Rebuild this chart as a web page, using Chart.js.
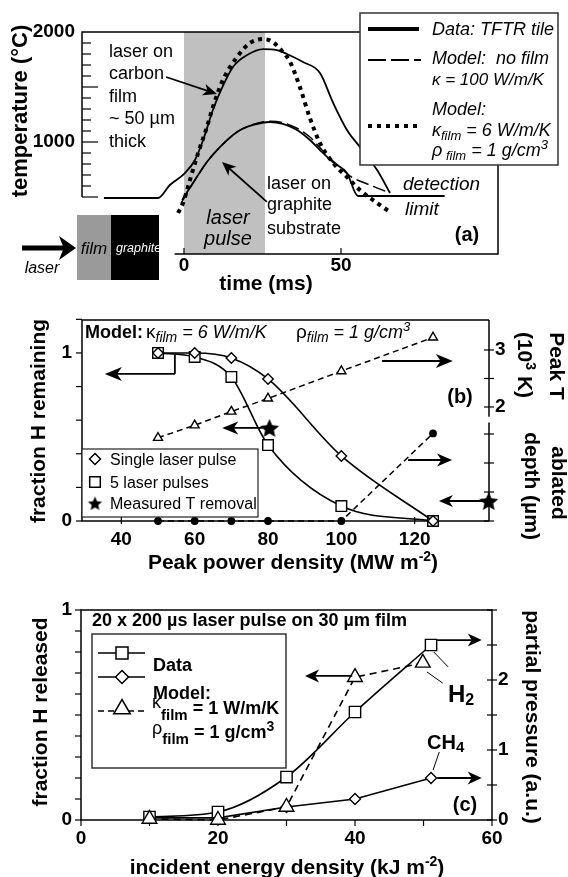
<!DOCTYPE html>
<html>
<head>
<meta charset="utf-8">
<script src="https://cdn.jsdelivr.net/npm/chart.js@4.4.1/dist/chart.umd.min.js"></script>
<style>
html, body { margin: 0; padding: 0; background: #fff; }
#wrap { position: relative; width: 568px; height: 877px; }
canvas { position: absolute; left: 0; top: 0; }
</style>
</head>
<body>
<div id="wrap">
<canvas id="chartA" width="568" height="877"></canvas>
<canvas id="chartB" width="568" height="877"></canvas>
<canvas id="chartC" width="568" height="877"></canvas>
</div>
<script>
const FONT = '"Liberation Sans", Arial, Helvetica, sans-serif';

// (a) surface temperature vs time
const pulseWindow = [0, 25.8];
const timeUpper = [-25.5, -8.3, -4.5, 0.3, 3.5, 6.1, 9.2, 12.1, 15.6, 20.1, 25.2, 29.6, 32.8, 37.9, 43.3, 47.5, 51.9, 56.0, 61.5, 65.6];
const tempUpper = [491, 491, 609, 718, 836, 1018, 1291, 1491, 1682, 1791, 1845, 1836, 1800, 1727, 1627, 1355, 1109, 955, 745, 536];
const timeLower = [-0.6, 3.5, 7.3, 11.5, 16.9, 22.0, 27.4, 31.5, 36.0, 40.1, 43.3, 47.5, 51.9, 55.4, 83.0];
const tempLower = [473, 655, 818, 955, 1091, 1155, 1182, 1164, 1109, 1018, 927, 815, 718, 509, 509];
const timeNoFilm = [-1.0, 3.5, 7.3, 11.5, 16.9, 22.0, 27.4, 31.5, 36.0, 40.1, 45.5, 49.7, 52.9, 59.2, 65.6];
const tempNoFilm = [440, 655, 818, 955, 1091, 1160, 1188, 1175, 1125, 1045, 880, 770, 690, 609, 536];
const timeFilm = [-1.9, -0.3, 1.9, 4.5, 7.3, 9.2, 12.4, 16.9, 21.0, 25.2, 28.3, 31.5, 33.8, 37.0, 40.1, 43.3, 47.5, 51.9, 56.0, 61.5, 65.6];
const tempFilm = [355, 445, 655, 900, 1136, 1318, 1564, 1773, 1900, 1936, 1909, 1818, 1727, 1491, 1218, 991, 809, 682, 564, 445, 364];
const ticksTime = [0, 50];
const ticksTemp = [1000, 2000];

// (b) fraction H remaining vs peak power density
const powerDensity = [50, 60, 70, 80, 100, 125];
const singlePulse = [1.0, 1.0, 0.97, 0.845, 0.387, 0.0];
const fivePulses = [1.0, 0.976, 0.857, 0.452, 0.089, 0.0];
const peakT = [1.46, 1.68, 1.92, 2.15, 2.63, 3.22];
const ablatedDepth = [0, 0, 0, 0, 0, 30.2];
const measuredPower = [80.4, 140.2];
const measuredRemaining = [0.554, 0.119];
const ticksPower = [40, 60, 80, 100, 120];
const ticksRemaining = [0, 1];
const ticksPeakT = [2, 3];
const ticksDepth = [0, 20];

// (c) fraction H released vs incident energy density
const energyData = [10, 20, 30, 40, 51.1];
const h2Pressure = [0.043, 0.114, 0.614, 1.543, 2.5];
const ch4Pressure = [0.03, 0.03, 0.186, 0.3, 0.6];
const energyModel = [10, 20, 30, 40, 49.9];
const modelReleased = [0.005, 0.0, 0.062, 0.68, 0.748];
const ticksEnergy = [0, 20, 40, 60];
const ticksReleased = [0, 1];
const ticksPressure = [0, 1, 2];

function fnt(size, style) { return (style || '') + ' ' + size + 'px ' + FONT; }
function P(t, f, dy, c) { return {t: t, f: f, dy: dy || 0, c: c}; }

function rich(ctx, x, y, parts, align) {
  ctx.save();
  ctx.textBaseline = 'alphabetic';
  ctx.textAlign = 'left';
  let w = 0;
  parts.forEach(p => { ctx.font = p.f; w += ctx.measureText(p.t).width; });
  let cx = align === 'center' ? x - w / 2 : x;
  parts.forEach(p => {
    ctx.font = p.f;
    ctx.fillStyle = p.c || '#000';
    ctx.fillText(p.t, cx, y + p.dy);
    cx += ctx.measureText(p.t).width;
  });
  ctx.restore();
}

function rot(ctx, cx, cy, ang, parts, size) {
  const a = size * 0.33;
  ctx.save();
  ctx.translate(cx + (ang < 0 ? a : -a), cy);
  ctx.rotate(ang);
  rich(ctx, 0, 0, parts, 'center');
  ctx.restore();
}

function seg(ctx, x1, y1, x2, y2) {
  ctx.beginPath(); ctx.moveTo(x1, y1); ctx.lineTo(x2, y2); ctx.stroke();
}

function arrow(ctx, x1, y1, x2, y2, len, half, lw) {
  const a = Math.atan2(y2 - y1, x2 - x1);
  ctx.save();
  ctx.strokeStyle = '#000'; ctx.fillStyle = '#000'; ctx.lineWidth = lw;
  seg(ctx, x1, y1, x2 - Math.cos(a) * len * 0.7, y2 - Math.sin(a) * len * 0.7);
  ctx.translate(x2, y2); ctx.rotate(a);
  ctx.beginPath();
  ctx.moveTo(0, 0); ctx.lineTo(-len, -half); ctx.lineTo(-len * 0.72, 0); ctx.lineTo(-len, half);
  ctx.closePath(); ctx.fill();
  ctx.restore();
}

function mark(ctx, kind, x, y, r) {
  ctx.save();
  ctx.lineWidth = 1.5; ctx.strokeStyle = '#000'; ctx.fillStyle = '#fff';
  ctx.beginPath();
  if (kind === 'rect') ctx.rect(x - r, y - r, 2 * r, 2 * r);
  else if (kind === 'diamond') { ctx.moveTo(x, y - r); ctx.lineTo(x + r, y); ctx.lineTo(x, y + r); ctx.lineTo(x - r, y); ctx.closePath(); }
  else { ctx.moveTo(x, y - r); ctx.lineTo(x + r * 0.87, y + r * 0.5); ctx.lineTo(x - r * 0.87, y + r * 0.5); ctx.closePath(); }
  ctx.fill(); ctx.stroke();
  ctx.restore();
}

function makeStar(r) {
  const c = document.createElement('canvas');
  c.width = c.height = Math.ceil(2 * r + 2);
  const g = c.getContext('2d'), m = c.width / 2;
  g.beginPath();
  for (let i = 0; i < 10; i++) {
    const rr = i % 2 ? r * 0.46 : r, a = -Math.PI / 2 + i * Math.PI / 5;
    g.lineTo(m + rr * Math.cos(a), m + 1 + rr * Math.sin(a));
  }
  g.closePath(); g.fillStyle = '#000'; g.fill();
  return c;
}
const starBig = makeStar(10);
const starSmall = makeStar(7.5);

function series(xs, ys, style) {
  return Object.assign({
    data: xs.map((x, i) => ({x: x, y: ys[i]})),
    borderColor: '#000', backgroundColor: '#fff', borderWidth: 1.6,
    pointRadius: 0, tension: 0, clip: false, fill: false,
    pointBorderColor: '#000', pointBackgroundColor: '#fff', pointBorderWidth: 1.4
  }, style);
}

function axis(pos, min, max, ticks, size, pad, weight) {
  return {
    type: 'linear', position: pos, min: min, max: max, bounds: 'data', weight: weight || 0,
    grid: {display: false, drawTicks: false},
    border: {display: false},
    ticks: {font: {family: FONT, size: 19, weight: 'bold'}, color: '#000', padding: pad,
            autoSkip: false, maxRotation: 0, minRotation: 0, callback: v => String(v)},
    afterBuildTicks: s => { s.ticks = ticks.map(v => ({value: v})); },
    afterFit: s => { if (pos === 'left' || pos === 'right') s.width = size; else s.height = size; }
  };
}

function baseOptions(padding, scales) {
  return {
    responsive: false, animation: false, devicePixelRatio: 1, events: [],
    layout: {padding: padding},
    plugins: {legend: {display: false}, tooltip: {enabled: false}},
    scales: scales
  };
}

// ---------------- (a) ----------------
const decoA = {
  id: 'decoA',
  beforeDatasetsDraw(chart) {
    const ctx = chart.ctx, x = chart.scales.x, y = chart.scales.y;
    ctx.save();
    const p0 = x.getPixelForValue(pulseWindow[0]), p1 = x.getPixelForValue(pulseWindow[1]);
    ctx.fillStyle = '#c0c0c0';
    ctx.fillRect(p0, y.top, p1 - p0, y.bottom - y.top);
    ctx.strokeStyle = '#000'; ctx.lineWidth = 1.5;
    ctx.beginPath();
    ctx.moveTo(x.left, y.getPixelForValue(500));
    ctx.lineTo(x.left, y.top); ctx.lineTo(x.right, y.top);
    ctx.lineTo(x.right, y.bottom); ctx.lineTo(x.getPixelForValue(-3), y.bottom);
    ctx.stroke();
    ctx.lineWidth = 1.2;
    for (let t = 500; t < 2000; t += 100) {
      const py = y.getPixelForValue(t);
      seg(ctx, x.left, py, x.left + (t % 500 === 0 ? 16 : 9), py);
    }
    ticksTime.forEach(v => { const px = x.getPixelForValue(v); seg(ctx, px, y.bottom, px, y.bottom - 6); });
    ctx.restore();
  },
  afterDatasetsDraw(chart) {
    const ctx = chart.ctx, x = chart.scales.x, y = chart.scales.y;
    const X = v => x.getPixelForValue(v), Y = v => y.getPixelForValue(v);
    arrow(ctx, X(-5.7), Y(1591), X(10.5), Y(1436), 14, 6, 1.8);
    arrow(ctx, X(26.4), Y(455), X(12.1), Y(818), 14, 6, 1.8);

    const r18 = fnt(18);
    rich(ctx, 109, 57, [P('laser on', r18)]);
    rich(ctx, 109, 79, [P('carbon', r18)]);
    rich(ctx, 109, 102, [P('film', r18)]);
    rich(ctx, 109, 124, [P('~ 50 µm', r18)]);
    rich(ctx, 109, 147, [P('thick', r18)]);
    rich(ctx, 267, 189, [P('laser on', r18)]);
    rich(ctx, 267, 210, [P('graphite', r18)]);
    rich(ctx, 267, 234, [P('substrate', r18)]);
    rich(ctx, 228, 224, [P('laser', fnt(20, 'italic'))], 'center');
    rich(ctx, 228, 245, [P('pulse', fnt(20, 'italic'))], 'center');
    rich(ctx, 403, 190, [P('detection', fnt(19, 'italic'))]);
    rich(ctx, 405, 215, [P('limit', fnt(19, 'italic'))]);
    rich(ctx, 467, 241, [P('(a)', fnt(20, 'bold'))], 'center');

    // film / graphite sketch
    ctx.save();
    ctx.fillStyle = '#9a9a9a'; ctx.fillRect(77, 215, 34, 65);
    ctx.fillStyle = '#000'; ctx.fillRect(111, 215, 48, 65);
    ctx.restore();
    rich(ctx, 94, 254, [P('film', fnt(17, 'italic'))], 'center');
    rich(ctx, 116, 252, [P('graphite', fnt(12.5, 'italic'), 0, '#fff')]);
    arrow(ctx, 22, 248, 76, 248, 17, 12, 5);
    rich(ctx, 42, 273, [P('laser', fnt(16, 'italic'))], 'center');

    // legend
    ctx.save();
    ctx.fillStyle = '#fff'; ctx.fillRect(360, 13, 198, 152);
    ctx.strokeStyle = '#333'; ctx.lineWidth = 1.5; ctx.strokeRect(360, 13, 198, 152);
    ctx.strokeStyle = '#000';
    ctx.lineWidth = 4; seg(ctx, 368, 29, 419, 29);
    ctx.lineWidth = 2; ctx.setLineDash([18, 5]); seg(ctx, 368, 60, 421, 60);
    ctx.lineWidth = 4; ctx.setLineDash([4, 5]); seg(ctx, 368, 126, 421, 126);
    ctx.restore();
    const i18 = fnt(18, 'italic');
    rich(ctx, 432, 35, [P('Data: TFTR tile', i18)]);
    rich(ctx, 432, 64, [P('Model:  no film', i18)]);
    rich(ctx, 432, 85, [P('κ = 100 W/m/K', fnt(17, 'italic'))]);
    rich(ctx, 432, 115, [P('Model:', i18)]);
    rich(ctx, 432, 136, [P('κ', i18), P('film', fnt(13, 'italic'), 4), P(' = 6 W/m/K', i18)]);
    rich(ctx, 432, 156, [P('ρ', i18), P(' film', fnt(13, 'italic'), 4), P(' = 1 g/cm', i18), P('3', fnt(13, 'italic'), -7)]);

    rich(ctx, 266, 290, [P('time (ms)', fnt(21, 'bold'))], 'center');
    rot(ctx, 20, 111, -Math.PI / 2, [P('temperature (°C)', fnt(22, 'bold'))], 22);
  }
};

new Chart(document.getElementById('chartA'), {
  type: 'line',
  data: {datasets: [
    series(timeUpper, tempUpper, {borderWidth: 1.8, cubicInterpolationMode: 'monotone'}),
    series(timeLower, tempLower, {borderWidth: 1.8, cubicInterpolationMode: 'monotone'}),
    series(timeNoFilm, tempNoFilm, {borderWidth: 1.5, borderDash: [13, 5], cubicInterpolationMode: 'monotone'}),
    series(timeFilm, tempFilm, {borderWidth: 4, borderDash: [4, 4.5], cubicInterpolationMode: 'monotone'})
  ]},
  options: baseOptions({left: 0, right: 70, top: 32, bottom: 593}, {
    x: axis('bottom', -32.48, 100, ticksTime, 30, 0),
    y: axis('left', -18.2, 2000, ticksTemp, 82, 7)
  }),
  plugins: [decoA]
});

// ---------------- (b) ----------------
const decoB = {
  id: 'decoB',
  beforeDatasetsDraw(chart) {
    const ctx = chart.ctx, s = chart.scales;
    const x = s.x, yL = s.yL, yT = s.yT, yD = s.yD;
    ctx.save();
    ctx.strokeStyle = '#000'; ctx.lineWidth = 1.5;
    ctx.beginPath();
    ctx.moveTo(x.right, yL.top); ctx.lineTo(x.left, yL.top);
    ctx.lineTo(x.left, yL.bottom); ctx.lineTo(x.right, yL.bottom);
    ctx.stroke();
    seg(ctx, x.right, yT.top, x.right, yT.getPixelForValue(1.83));
    seg(ctx, x.right, yD.getPixelForValue(34), x.right, yD.bottom);
    ctx.lineWidth = 1.2;
    for (let i = 0; i <= 6; i++) { const py = yL.getPixelForValue(i * 0.2); seg(ctx, x.left - 6, py, x.left, py); }
    ticksPower.forEach(v => { const px = x.getPixelForValue(v); seg(ctx, px, yL.bottom - 4, px, yL.bottom + 3); });
    [2, 2.5, 3].forEach(v => { const py = yT.getPixelForValue(v); seg(ctx, x.right - 5, py, x.right + 5, py); });
    [0, 10, 20, 30].forEach(v => { const py = yD.getPixelForValue(v); seg(ctx, x.right - 5, py, x.right + 5, py); });
    ctx.restore();
  },
  afterDatasetsDraw(chart) {
    const ctx = chart.ctx, x = chart.scales.x, yL = chart.scales.yL;
    const X = v => x.getPixelForValue(v), Y = v => yL.getPixelForValue(v);

    ctx.save();
    ctx.strokeStyle = '#000'; ctx.lineWidth = 1.8;
    seg(ctx, X(54.6), Y(0.99), X(54.6), Y(0.875));
    ctx.restore();
    arrow(ctx, X(54.6), Y(0.875), X(35.5), Y(0.875), 17, 7, 1.8);
    arrow(ctx, X(78.6), Y(0.554), X(67.5), Y(0.554), 16, 6.5, 1.8);
    arrow(ctx, X(111.1), Y(0.952), X(130.4), Y(0.952), 17, 7, 1.8);
    arrow(ctx, X(118.2), Y(0.363), X(130.2), Y(0.363), 15, 6.5, 1.8);
    arrow(ctx, X(139.7), Y(0.119), X(126.6), Y(0.119), 14, 6, 1.8);

    rich(ctx, 85, 338, [P('Model:', fnt(18, 'bold'))]);
    rich(ctx, 146, 338, [P('κ', fnt(19)), P('film', fnt(14, 'italic'), 4), P(' = 6 W/m/K', fnt(18, 'italic'))]);
    rich(ctx, 296, 338, [P('ρ', fnt(19)), P('film', fnt(14, 'italic'), 4), P(' = 1 g/cm', fnt(18, 'italic')), P('3', fnt(13, 'italic'), -7)]);
    rich(ctx, 460, 403, [P('(b)', fnt(20, 'bold'))], 'center');

    // legend
    ctx.save();
    ctx.fillStyle = '#fff'; ctx.fillRect(82, 449, 176, 68);
    ctx.strokeStyle = '#222'; ctx.lineWidth = 1.2; ctx.strokeRect(82, 449, 176, 68);
    ctx.restore();
    mark(ctx, 'diamond', 95, 459, 5.5);
    mark(ctx, 'rect', 95, 482, 5.3);
    ctx.drawImage(starSmall, 95 - starSmall.width / 2, 503 - starSmall.height / 2);
    const r16 = fnt(16);
    rich(ctx, 110, 465, [P('Single laser pulse', r16)]);
    rich(ctx, 110, 488, [P('5 laser pulses', r16)]);
    rich(ctx, 110, 509, [P('Measured T removal', r16)]);

    const b21 = fnt(21, 'bold');
    rich(ctx, 293, 569, [P('Peak power density (MW m', b21), P('-2', fnt(14, 'bold'), -8), P(')', b21)], 'center');
    rot(ctx, 38, 421, -Math.PI / 2, [P('fraction H remaining', b21)], 21);
    rot(ctx, 557, 366, Math.PI / 2, [P('Peak T', b21)], 21);
    rot(ctx, 525, 365, Math.PI / 2, [P('(10', b21), P('3', fnt(14, 'bold'), -8), P(' K)', b21)], 21);
    rot(ctx, 559, 483, Math.PI / 2, [P('ablated', b21)], 21);
    rot(ctx, 532, 486, Math.PI / 2, [P('depth (µm)', b21)], 21);
  }
};

new Chart(document.getElementById('chartB'), {
  type: 'line',
  data: {datasets: [
    series(powerDensity, singlePulse, {yAxisID: 'yL', cubicInterpolationMode: 'monotone', pointStyle: 'rectRot', pointRadius: 5.2}),
    series(powerDensity, fivePulses, {yAxisID: 'yL', cubicInterpolationMode: 'monotone', pointStyle: 'rect', pointRadius: 7.5}),
    series(powerDensity, peakT, {yAxisID: 'yT', borderWidth: 1.5, borderDash: [6, 4], pointStyle: 'triangle', pointRadius: 5.2}),
    series(powerDensity, ablatedDepth, {yAxisID: 'yD', borderWidth: 1.5, borderDash: [6, 4], pointStyle: 'circle', pointRadius: 3.2, pointBackgroundColor: '#000'}),
    series(measuredPower, measuredRemaining, {yAxisID: 'yL', showLine: false, pointStyle: starBig, pointRadius: 10})
  ]},
  options: baseOptions({left: 0, right: 0, top: 320, bottom: 326}, {
    x: axis('bottom', 29.27, 140.27, ticksPower, 30, 7),
    yL: axis('left', 0, 1.196, ticksRemaining, 82, 10),
    yD: axis('right', 0, 69.3, ticksDepth, 0, 6, 0),
    yT: axis('right', 0, 3.526, ticksPeakT, 79, 6, 1)
  }),
  plugins: [decoB]
});

// ---------------- (c) ----------------
const decoC = {
  id: 'decoC',
  beforeDatasetsDraw(chart) {
    const ctx = chart.ctx, x = chart.scales.x, yL = chart.scales.yL, yR = chart.scales.yR;
    ctx.save();
    ctx.strokeStyle = '#000'; ctx.lineWidth = 1.5;
    ctx.strokeRect(x.left, yL.top, x.right - x.left, yL.bottom - yL.top);
    ctx.lineWidth = 1.2;
    for (let i = 0; i <= 10; i++) { const py = yL.getPixelForValue(i / 10); seg(ctx, x.left - 6, py, x.left, py); }
    for (let v = 0; v <= 60; v += 10) { const px = x.getPixelForValue(v); seg(ctx, px, yL.bottom, px, yL.bottom + 6); }
    for (let i = 0; i <= 6; i++) { const py = yR.getPixelForValue(i / 2); seg(ctx, x.right - 5, py, x.right + 5, py); }
    ctx.restore();
  },
  afterDatasetsDraw(chart) {
    const ctx = chart.ctx, x = chart.scales.x, yL = chart.scales.yL;
    const X = v => x.getPixelForValue(v), Y = v => yL.getPixelForValue(v);

    arrow(ctx, X(52.0), Y(0.857), X(58.5), Y(0.857), 14, 6.5, 1.8);
    arrow(ctx, X(39.6), Y(0.686), X(32.7), Y(0.686), 14, 6.5, 1.8);
    arrow(ctx, X(52.0), Y(0.2), X(58.5), Y(0.2), 14, 6.5, 1.8);
    ctx.save();
    ctx.strokeStyle = '#000'; ctx.lineWidth = 1;
    seg(ctx, X(51.5), Y(0.8), X(53.6), Y(0.729));
    seg(ctx, X(50.5), Y(0.705), X(52.8), Y(0.652));
    seg(ctx, X(52.3), Y(0.324), X(51.4), Y(0.238));
    ctx.restore();

    rich(ctx, 448, 702, [P('H', fnt(24, 'bold')), P('2', fnt(16, 'bold'), 3)]);
    rich(ctx, 427, 749, [P('CH', fnt(20, 'bold')), P('4', fnt(15, 'bold'), 3)]);
    rich(ctx, 465, 811, [P('(c)', fnt(20, 'bold'))], 'center');
    rich(ctx, 92, 626, [P('20 x 200 µs laser pulse on 30 µm film', fnt(18, 'bold'))]);

    // legend
    ctx.save();
    ctx.fillStyle = '#fff'; ctx.fillRect(92, 634, 194, 134);
    ctx.strokeStyle = '#333'; ctx.lineWidth = 1.5; ctx.strokeRect(92, 634, 194, 134);
    ctx.strokeStyle = '#000'; ctx.lineWidth = 1.6;
    seg(ctx, 98, 653, 145, 653);
    seg(ctx, 98, 677, 145, 677);
    ctx.setLineDash([6, 4]); seg(ctx, 98, 711, 146, 711);
    ctx.restore();
    mark(ctx, 'rect', 122, 653, 6);
    mark(ctx, 'diamond', 122, 677, 6.5);
    mark(ctx, 'triangle', 122, 709, 9.5);
    const b18 = fnt(18, 'bold');
    rich(ctx, 153, 671, [P('Data', b18)]);
    rich(ctx, 153, 699, [P('Model:', b18)]);
    rich(ctx, 152, 714, [P('κ', fnt(18), -6), P('film', fnt(15, 'bold'), 6), P(' = 1 W/m/K', b18)]);
    rich(ctx, 152, 738, [P('ρ', fnt(18), -4), P('film', fnt(15, 'bold'), 6), P(' = 1 g/cm', b18), P('3', fnt(14, 'bold'), -7)]);

    const b21 = fnt(21, 'bold');
    rich(ctx, 287, 874, [P('incident energy density (kJ m', b21), P('-2', fnt(14, 'bold'), -8), P(')', b21)], 'center');
    rot(ctx, 40, 712, -Math.PI / 2, [P('fraction H released', b21)], 21);
    rot(ctx, 533, 717, Math.PI / 2, [P('partial pressure (a.u.)', b21)], 21);
  }
};

new Chart(document.getElementById('chartC'), {
  type: 'line',
  data: {datasets: [
    series(energyModel, modelReleased, {yAxisID: 'yL', borderWidth: 1.6, borderDash: [7, 5], pointStyle: 'triangle', pointRadius: 8.5}),
    series(energyData, h2Pressure, {yAxisID: 'yR', cubicInterpolationMode: 'monotone', pointStyle: 'rect', pointRadius: 8}),
    series(energyData, ch4Pressure, {yAxisID: 'yR', pointStyle: 'rectRot', pointRadius: 5.5})
  ]},
  options: baseOptions({left: 0, right: 0, top: 610, bottom: 27}, {
    x: axis('bottom', 0, 60, ticksEnergy, 30, 7),
    yL: axis('left', 0, 1, ticksReleased, 81, 9),
    yR: axis('right', 0, 3, ticksPressure, 76, 6)
  }),
  plugins: [decoC]
});
</script>
</body>
</html>
